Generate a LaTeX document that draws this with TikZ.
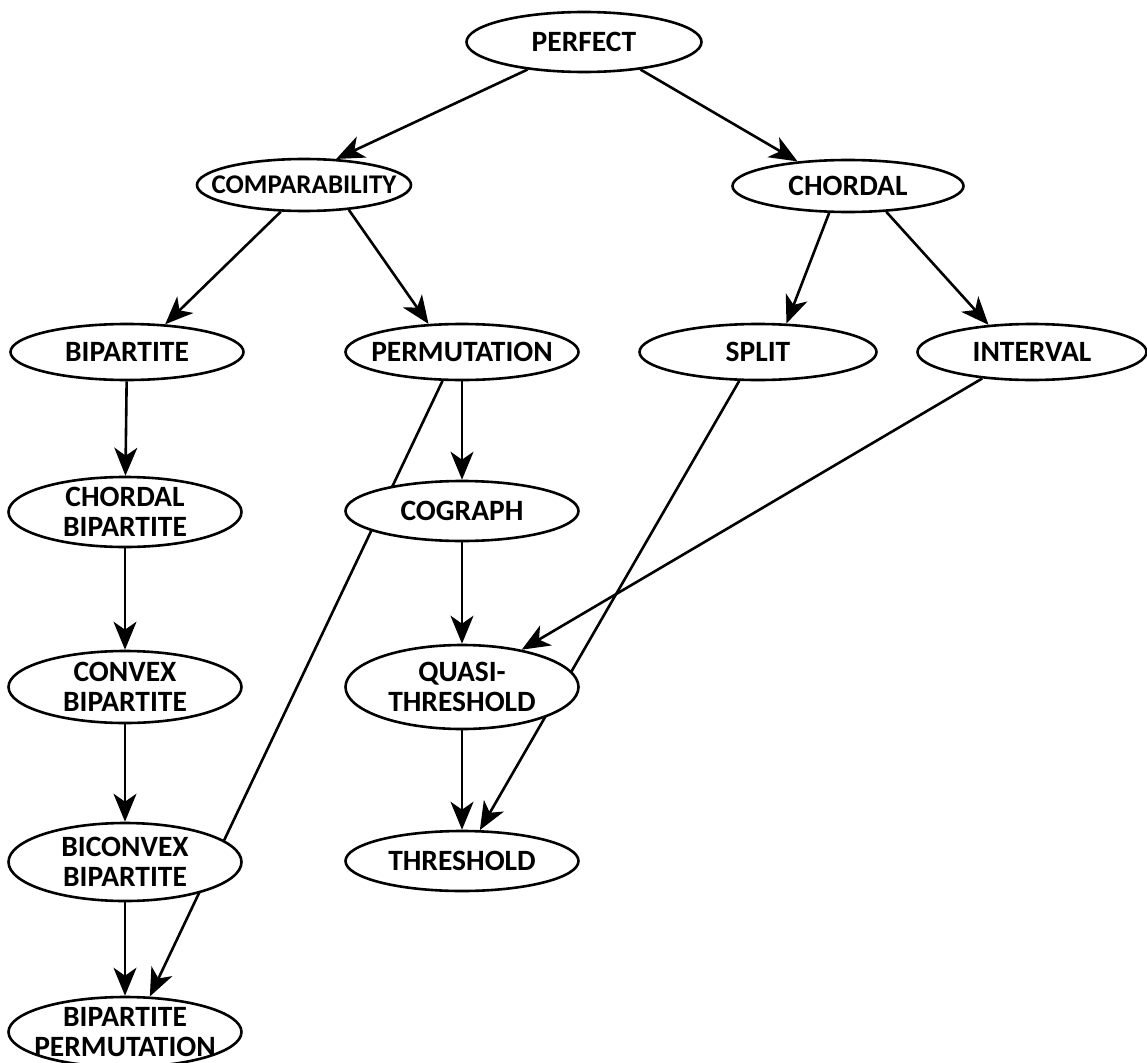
\documentclass[tikz,border=0pt]{standalone}
\usepackage{fontspec}
\setmainfont{Carlito}
\usetikzlibrary{arrows.meta,backgrounds,shapes.geometric}
\begin{document}
\begin{tikzpicture}[x=1pt,y=-1pt,
  cls/.style={ellipse,draw,line width=2.6pt,fill=white,inner sep=0pt,
    minimum width=233pt,minimum height=58pt,
    label={[lbl]center:#1}},
  lbl/.style={inner sep=0pt,align=center,
    font=\fontsize{29.5}{30}\selectfont\bfseries},
  small/.style={label={[lbl,font=\fontsize{27}{30}\selectfont\bfseries]center:#1}},
  edge/.style={line width=2.6pt,-{Stealth[length=28pt,width=23pt,inset=8pt]}}]
\useasboundingbox (0,0) rectangle (1147,1062);
\node[cls=PERFECT,minimum width=235pt,minimum height=60pt] (perfect) at (584,42) {};
\node[ellipse,draw,line width=2.6pt,fill=white,inner sep=0pt,small=COMPARABILITY,minimum width=214pt,minimum height=52pt] (comp) at (304,185) {};
\node[cls=CHORDAL,minimum width=231pt,minimum height=52pt] (chordal) at (848,186) {};
\node[cls=BIPARTITE,minimum height=56pt] (bip) at (127,352) {};
\node[cls=PERMUTATION,minimum height=56pt] (perm) at (462,352) {};
\node[cls=SPLIT,minimum height=56pt,minimum width=237pt] (split) at (758,352) {};
\node[cls=INTERVAL,minimum height=56pt,minimum width=229pt] (interval) at (1032,352) {};
\node[cls={CHORDAL\\BIPARTITE},minimum height=70pt] (chordbip) at (125,512) {};
\node[cls=COGRAPH,minimum height=60pt] (cograph) at (462,511) {};
\node[cls={CONVEX\\BIPARTITE},minimum height=72pt] (convex) at (125,687) {};
\node[cls={QUASI-\\THRESHOLD},minimum height=84pt] (quasi) at (462,687) {};
\node[cls={BICONVEX\\BIPARTITE},minimum height=78pt] (biconvex) at (125,862) {};
\node[cls=THRESHOLD,minimum height=60pt] (threshold) at (462,861) {};
\node[cls={BIPARTITE\\PERMUTATION},minimum height=70pt] (bipperm) at (125,1032) {};
\begin{scope}[on background layer]
\draw[edge] (perfect.206) -- (comp.39);
\draw[edge] (perfect.334) -- (chordal.154);
\draw[edge] (comp.229) -- (bip.36);
\draw[edge] (comp.331) -- (perm.140);
\draw[edge] (chordal.235) -- (split.45);
\draw[edge] (chordal.326) -- (interval.148);
\draw[edge] (bip) -- (chordbip);
\draw[edge] (chordbip) -- (convex);
\draw[edge] (convex) -- (biconvex);
\draw[edge] (biconvex) -- (bipperm);
\draw[edge] (perm.270) -- (cograph.90);
\draw[edge] (cograph) -- (quasi);
\draw[edge] (quasi) -- (threshold);
\draw[edge] (perm.236) -- (bipperm.55);
\draw[edge] (split.237) -- (threshold.60);
\draw[edge] (interval.208) -- (quasi.32);
\end{scope}
\end{tikzpicture}
\end{document}
